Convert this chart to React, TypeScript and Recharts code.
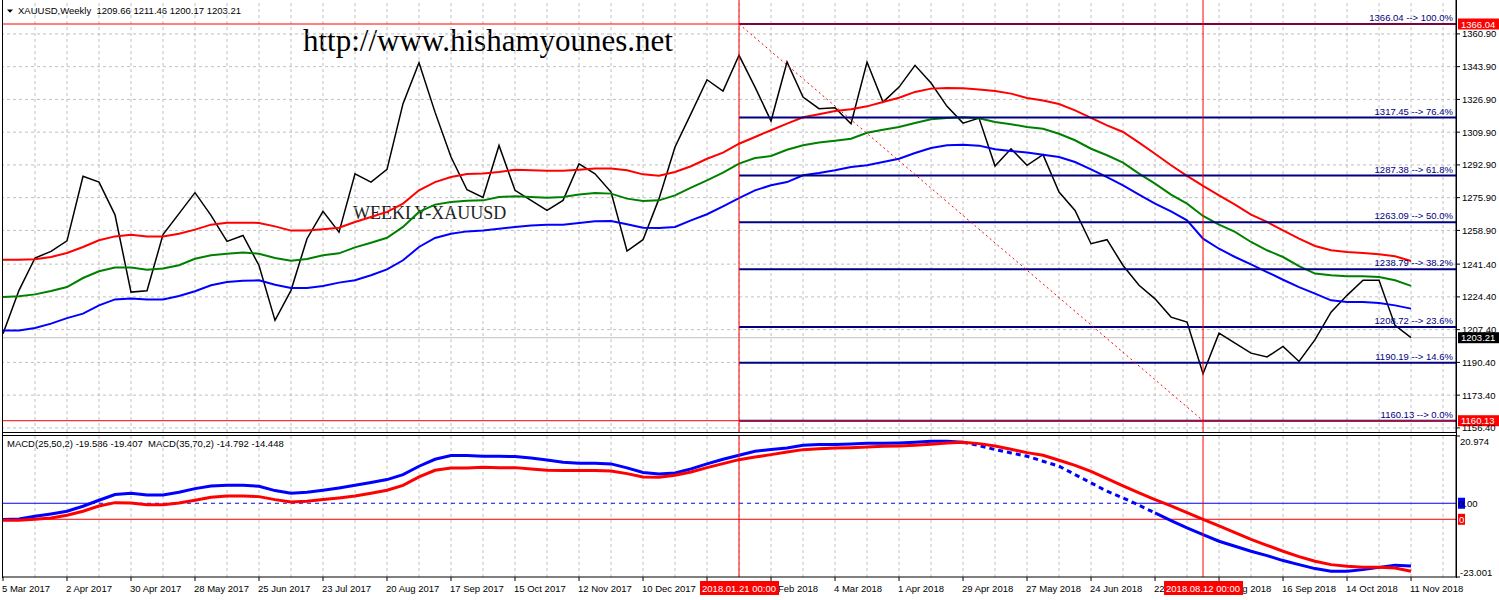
import React from 'react';
import { ComposedChart, Line, XAxis, YAxis, ReferenceLine } from 'recharts';

const FONT = '"Liberation Sans", Arial, sans-serif';
const SERIF = '"Liberation Serif", "Times New Roman", serif';

// Weekly XAUUSD closes, 5 Mar 2017 .. 11 Nov 2018
const closes = [
  1205.3, 1227.8, 1244.6, 1248.0, 1253.5, 1287.0, 1284.0, 1267.0, 1226.9, 1227.6,
  1256.7, 1267.6, 1278.5, 1266.7, 1253.2, 1256.3, 1240.7, 1212.2, 1227.8, 1254.6,
  1268.8, 1258.0, 1288.3, 1284.0, 1290.6, 1324.7, 1345.9, 1320.3, 1297.0, 1280.0,
  1276.0, 1303.0, 1279.7, 1274.5, 1269.3, 1274.5, 1293.5, 1288.3, 1278.8, 1248.2,
  1254.1, 1275.4, 1302.2, 1319.5, 1337.1, 1331.2, 1349.8, 1333.3, 1315.7, 1346.3,
  1328.1, 1322.1, 1322.6, 1314.3, 1346.3, 1325.5, 1333.3, 1344.6, 1335.4, 1323.3,
  1314.6, 1317.2, 1292.3, 1301.3, 1292.7, 1298.2, 1278.8, 1269.3, 1252.0, 1254.1,
  1240.7, 1230.4, 1223.4, 1213.9, 1211.3, 1184.5, 1205.6, 1200.4, 1195.2, 1193.2,
  1198.7, 1190.9, 1202.2, 1216.5, 1225.2, 1233.0, 1233.0, 1209.6, 1203.21,
];
const maRed = [
  1243.7, 1243.7, 1243.9, 1245.1, 1247.2, 1250.3, 1253.8, 1255.8, 1256.7, 1255.8,
  1255.8, 1257.2, 1259.3, 1261.9, 1262.9, 1262.9, 1262.8, 1261.0, 1258.8, 1258.8,
  1259.5, 1260.3, 1263.3, 1265.9, 1268.5, 1272.8, 1279.7, 1284.0, 1286.6, 1288.2,
  1288.4, 1289.2, 1290.4, 1290.1, 1289.9, 1289.9, 1290.4, 1291.0, 1291.0, 1290.1,
  1288.0, 1287.3, 1289.2, 1292.2, 1296.1, 1299.3, 1303.9, 1307.4, 1310.9, 1314.3,
  1317.6, 1319.2, 1320.9, 1321.8, 1323.3, 1325.6, 1327.8, 1330.8, 1332.5, 1332.8,
  1332.7, 1332.0, 1331.3, 1329.9, 1327.6, 1326.3, 1324.5, 1321.2, 1317.3, 1313.4,
  1310.0, 1304.5, 1298.7, 1292.7, 1287.2, 1282.0, 1277.1, 1272.3, 1267.1, 1263.3,
  1258.9, 1254.6, 1250.8, 1248.6, 1247.7, 1247.2, 1246.5, 1245.5, 1243.0,
];
const maGreen = [
  1224.3, 1224.7, 1225.7, 1227.5, 1229.5, 1234.2, 1237.7, 1239.7, 1239.6, 1238.5,
  1239.1, 1240.8, 1244.2, 1246.0, 1246.8, 1247.4, 1246.8, 1244.6, 1243.2, 1244.1,
  1246.0, 1247.0, 1250.1, 1252.5, 1255.1, 1260.7, 1268.5, 1272.3, 1273.7, 1274.3,
  1274.5, 1276.2, 1276.6, 1276.2, 1275.9, 1276.2, 1277.6, 1278.3, 1278.0, 1275.4,
  1274.2, 1274.5, 1277.1, 1281.1, 1284.9, 1288.9, 1293.6, 1296.5, 1297.5, 1300.8,
  1303.1, 1304.5, 1305.5, 1306.5, 1309.6, 1311.2, 1312.6, 1314.7, 1316.6, 1317.3,
  1317.6, 1317.1, 1315.2, 1314.0, 1312.6, 1311.7, 1309.1, 1305.7, 1301.3, 1297.9,
  1294.1, 1288.4, 1283.2, 1277.5, 1272.8, 1266.4, 1261.9, 1258.1, 1252.9, 1248.6,
  1245.1, 1240.4, 1236.5, 1235.6, 1235.1, 1235.1, 1234.7, 1233.0, 1230.1,
];
const maBlue = [
  1207.0, 1207.0, 1208.3, 1210.5, 1213.4, 1215.7, 1220.0, 1223.1, 1223.5, 1223.1,
  1223.1, 1224.9, 1227.3, 1230.4, 1232.1, 1232.8, 1233.0, 1230.7, 1229.0, 1229.0,
  1230.1, 1231.8, 1233.0, 1235.6, 1238.7, 1243.4, 1250.3, 1255.0, 1257.2, 1258.4,
  1258.9, 1259.8, 1260.7, 1261.5, 1261.9, 1261.9, 1262.8, 1263.6, 1263.8, 1262.1,
  1260.3, 1260.2, 1260.7, 1264.1, 1267.3, 1271.4, 1275.7, 1279.7, 1282.3, 1284.0,
  1287.5, 1288.7, 1290.1, 1291.8, 1292.7, 1294.4, 1296.1, 1299.1, 1301.7, 1303.1,
  1303.4, 1302.9, 1301.0, 1300.1, 1299.3, 1298.2, 1297.0, 1294.4, 1290.6, 1286.6,
  1282.3, 1277.5, 1272.8, 1268.8, 1264.1, 1254.6, 1249.4, 1245.1, 1241.3, 1237.3,
  1233.3, 1229.5, 1226.1, 1222.6, 1221.8, 1221.8, 1221.2, 1220.0, 1218.3,
];
// MACD(25,50,2) main (blue) and MACD(35,70,2) main (red)
const macdBlue = [
  -5.09, -4.89, -4.05, -3.33, -2.5, -0.94, 0.94, 2.7, 3.12, 2.6,
  2.6, 3.43, 4.57, 5.41, 5.61, 5.61, 5.3, 3.95, 3.12, 3.43,
  4.05, 4.78, 5.61, 6.45, 7.38, 8.94, 11.54, 13.72, 14.87, 14.87,
  14.66, 14.66, 14.56, 14.14, 13.52, 12.79, 12.48, 12.48, 12.27, 11.02,
  9.57, 9.15, 9.46, 10.71, 12.27, 13.72, 14.97, 16.22, 16.74, 17.26,
  18.09, 18.3, 18.3, 18.51, 18.71, 18.71, 18.82, 19.03, 19.34, 19.34,
  19.03, 17.99, 16.74, 15.7, 14.66, 13.1, 11.54, 8.94, 6.34, 3.74,
  1.66, -0.62, -3.02, -5.41, -7.69, -9.77, -11.85, -13.41, -14.97, -16.32,
  -17.88, -19.13, -20.38, -21.21, -21.21, -20.7, -20.0, -19.3, -19.59,
];
const macdRed = [
  -0.28, -0.28, 0, 0.38, 1.14, 2.28, 3.79, 4.74, 4.65, 4.17,
  4.17, 4.65, 5.41, 6.26, 6.64, 6.64, 6.45, 5.6, 4.93, 5.12,
  5.6, 6.07, 6.64, 7.4, 8.25, 9.67, 12.04, 13.94, 14.6, 14.6,
  14.79, 14.7, 14.7, 14.32, 13.94, 13.85, 13.85, 13.85, 13.75, 12.99,
  12.04, 11.95, 12.52, 13.47, 14.7, 15.84, 16.97, 17.73, 18.4, 19.16,
  19.82, 20.1, 20.29, 20.39, 20.58, 20.77, 20.86, 21.05, 21.34, 21.72,
  21.91, 21.53, 20.86, 19.91, 18.97, 18.21, 16.79, 15.36, 13.66, 11.57,
  9.48, 7.49, 5.59, 3.79, 1.9, 0, -1.9, -3.79, -5.69, -7.4,
  -9.1, -10.62, -11.95, -12.9, -13.37, -13.66, -13.66, -13.85, -14.79,
];
const dateLabels = [
  '5 Mar 2017', '2 Apr 2017', '30 Apr 2017', '28 May 2017', '25 Jun 2017', '23 Jul 2017',
  '20 Aug 2017', '17 Sep 2017', '15 Oct 2017', '12 Nov 2017', '10 Dec 2017', '7 Jan 2018',
  '4 Feb 2018', '4 Mar 2018', '1 Apr 2018', '29 Apr 2018', '27 May 2018', '24 Jun 2018',
  '22 Jul 2018', '19 Aug 2018', '16 Sep 2018', '14 Oct 2018', '11 Nov 2018',
];
const LABEL_STEP = 4;
const priceTicks = [1360.9, 1343.9, 1326.9, 1309.9, 1292.9, 1275.9, 1258.9, 1241.4, 1224.4, 1207.4, 1190.4, 1173.4, 1156.4];
const fibLevels = [1366.04, 1317.45, 1287.38, 1263.09, 1238.79, 1208.72, 1190.19, 1160.13];
const fibPercents = ['100.0%', '76.4%', '61.8%', '50.0%', '38.2%', '23.6%', '14.6%', '0.0%'];
const macdTicks = [20.974, -23.001];
const FIB_START = 46; // 2018.01.21
const FIB_END = 75; // 2018.08.12
const fibDates = ['2018.01.21 00:00', '2018.08.12 00:00'];
const LAST_PRICE = 1203.21;
const FIB_HIGH = 1366.04;
const FIB_LOW = 1160.13;

const X_MAX = 90.81;
const PRICE_DOMAIN: [number, number] = [1154.27, 1378.5];
const MACD_BLUE_DOMAIN: [number, number] = [-23.001, 20.974];
const MACD_RED_DOMAIN: [number, number] = [-16.42, 23.7];

const mainData = closes.map((c, i) => ({ i, close: c, red: maRed[i], green: maGreen[i], blue: maBlue[i] }));
const macdData = macdBlue.map((b, i) => ({
  i,
  blue: i <= 60 || i >= 72 ? b : null,
  blueDash: i >= 60 && i <= 72 ? b : null,
  red: macdRed[i],
}));
const gridX: number[] = [];
for (let k = 2; k <= X_MAX; k += 2) gridX.push(k);
const labelIdx = dateLabels.map((_, k) => k * LABEL_STEP);

// zero crossings of blue MACD (for the zero-level style change)
const crossings: number[] = [];
for (let k = 1; k < macdBlue.length; k++) {
  const a = macdBlue[k - 1];
  const b = macdBlue[k];
  if ((a < 0 && b >= 0) || (a >= 0 && b < 0)) crossings.push(k - 1 + a / (a - b));
}
const c1 = crossings[0];
const c2 = crossings[crossings.length - 1];

const GRID = '#c0c0c0';
const NAVY = '#000080';

const PriceTick = (p: any) => (
  <text x={p.x} y={p.y + 3.5} fontSize={9.5} fontFamily={FONT} fill="#000" textAnchor="start">
    {Number(p.payload.value).toFixed(2)}
  </text>
);
const MacdTick = (p: any) => {
  const v = Number(p.payload.value);
  return (
    <text x={p.x - 2} y={p.y + (v > 0 ? 8.5 : -1.5)} fontSize={9.5} fontFamily={FONT} fill="#000" textAnchor="start">
      {v.toFixed(3)}
    </text>
  );
};
const DateTick = (p: any) => {
  const idx = Math.round(Number(p.payload.value) / LABEL_STEP);
  return (
    <text x={p.x - 1} y={p.y + 9} fontSize={9.5} fontFamily={FONT} fill="#000" textAnchor="start">
      {dateLabels[idx]}
    </text>
  );
};
const FibLabel = (props: any) => {
  const vb = props.viewBox;
  if (!vb) return null;
  return (
    <text x={vb.x + vb.width - 3} y={vb.y - 3} textAnchor="end" fontSize={9.5} fontFamily={FONT} fill={NAVY}>
      {props.txt}
    </text>
  );
};
const PriceBox = (props: any) => {
  const vb = props.viewBox;
  if (!vb) return null;
  const x = vb.x + vb.width + 2;
  return (
    <g>
      <rect x={x} y={vb.y - 5.5} width={41} height={11} fill={props.bg} />
      <text x={x + 3} y={vb.y + 3.5} fontSize={9.5} fontFamily={FONT} fill="#fff">
        {props.txt}
      </text>
    </g>
  );
};
const SmallBox = (props: any) => {
  const vb = props.viewBox;
  if (!vb) return null;
  const x = vb.x + vb.width + 2;
  return (
    <g>
      <rect x={x} y={vb.y - 5.5} width={7} height={11} fill={props.bg} />
      <text x={x + 1} y={vb.y + 3.5} fontSize={9.5} fontFamily={FONT} fill={props.fg}>
        {props.txt}
      </text>
    </g>
  );
};
const DateBox = (props: any) => {
  const vb = props.viewBox;
  if (!vb) return null;
  const y = vb.y + vb.height + 4;
  return (
    <g>
      <rect x={vb.x - 39} y={y} width={79} height={14} fill="#ff0000" />
      <text x={vb.x} y={y + 10.5} textAnchor="middle" fontSize={9.5} fontFamily={FONT} fill="#fff">
        {props.txt}
      </text>
    </g>
  );
};

const line = (top: number, left: number, w: number, h: number, color = '#000') => (
  <div style={{ position: 'absolute', top, left, width: w, height: h, background: color }} />
);

export default function App() {
  return (
    <div style={{ position: 'absolute', left: 0, top: 0, width: 1499, height: 600, background: '#fff', overflow: 'hidden' }}>
      <svg width={1499} height={600} style={{ position: 'absolute', left: 0, top: 0 }}>
        <polygon points="7,9.5 13,9.5 10,12.8" fill="#000" />
        <text x={18} y={14} fontSize={9.5} fontFamily={FONT} fill="#000" style={{ whiteSpace: 'pre' }}>
          {'XAUUSD,Weekly  1209.66 1211.46 1200.17 1203.21'}
        </text>
        <text x={303} y={51} fontSize={31} fontFamily={SERIF} fill="#000">http://www.hishamyounes.net</text>
        <text x={353} y={219} fontSize={18} fontFamily={SERIF} fill="#222">WEEKLY-XAUUSD</text>
        <text x={7} y={447} fontSize={9.5} fontFamily={FONT} fill="#000" style={{ whiteSpace: 'pre' }}>
          {'MACD(25,50,2) -19.586 -19.407  MACD(35,70,2) -14.792 -14.448'}
        </text>
      </svg>

      <div style={{ position: 'absolute', left: 0, top: 0 }}>
        <ComposedChart width={1499} height={434} data={mainData} margin={{ top: 0, right: 0, bottom: 2, left: 3 }}>
          <XAxis dataKey="i" type="number" domain={[0, X_MAX]} hide allowDataOverflow />
          <YAxis
            orientation="right"
            width={43}
            domain={PRICE_DOMAIN}
            ticks={priceTicks}
            interval={0}
            allowDataOverflow
            tick={<PriceTick />}
            tickSize={4}
            tickMargin={2}
            tickLine={{ stroke: '#000' }}
            axisLine={{ stroke: '#000' }}
          />
          {gridX.map((k) => (
            <ReferenceLine key={'gx' + k} x={k} stroke={GRID} strokeDasharray="3 3" />
          ))}
          {priceTicks.map((v) => (
            <ReferenceLine key={'gy' + v} y={v} stroke={GRID} strokeDasharray="3 3" />
          ))}
          <ReferenceLine y={LAST_PRICE} stroke="#c0c0c0" label={<PriceBox txt={LAST_PRICE.toFixed(2)} bg="#000" />} />
          <Line dataKey="close" stroke="#000" strokeWidth={1.5} dot={false} activeDot={false} isAnimationActive={false} type="linear" />
          <Line dataKey="red" stroke="#ff0000" strokeWidth={2} dot={false} activeDot={false} isAnimationActive={false} type="linear" />
          <Line dataKey="green" stroke="#008000" strokeWidth={2} dot={false} activeDot={false} isAnimationActive={false} type="linear" />
          <Line dataKey="blue" stroke="#0000ff" strokeWidth={2} dot={false} activeDot={false} isAnimationActive={false} type="linear" />
          {fibLevels.map((lv, k) => (
            <ReferenceLine
              key={'fib' + k}
              segment={[{ x: FIB_START, y: lv }, { x: X_MAX, y: lv }]}
              stroke={NAVY}
              strokeWidth={2}
              label={<FibLabel txt={`${lv.toFixed(2)} --> ${fibPercents[k]}`} />}
            />
          ))}
          <ReferenceLine y={FIB_HIGH} stroke="#ff0000" label={<PriceBox txt={FIB_HIGH.toFixed(2)} bg="#ff0000" />} />
          <ReferenceLine y={FIB_LOW} stroke="#ff0000" label={<PriceBox txt={FIB_LOW.toFixed(2)} bg="#ff0000" />} />
          <ReferenceLine x={FIB_START} stroke="#ff0000" />
          <ReferenceLine x={FIB_END} stroke="#ff0000" />
          <ReferenceLine
            segment={[{ x: FIB_START, y: FIB_HIGH }, { x: FIB_END, y: FIB_LOW }]}
            stroke="#ff0000"
            strokeDasharray="2 3"
          />
        </ComposedChart>
      </div>

      <div style={{ position: 'absolute', left: 0, top: 434 }}>
        <ComposedChart width={1499} height={166} data={macdData} margin={{ top: 2, right: 0, bottom: 0, left: 3 }}>
          <XAxis
            dataKey="i"
            type="number"
            domain={[0, X_MAX]}
            allowDataOverflow
            ticks={labelIdx}
            interval={0}
            height={23}
            tick={<DateTick />}
            tickSize={4}
            tickMargin={2}
            tickLine={{ stroke: '#000' }}
            axisLine={{ stroke: '#000' }}
          />
          <YAxis
            yAxisId="b"
            orientation="right"
            width={43}
            domain={MACD_BLUE_DOMAIN}
            ticks={macdTicks}
            interval={0}
            allowDataOverflow
            tick={<MacdTick />}
            tickSize={4}
            tickMargin={2}
            tickLine={{ stroke: '#000' }}
            axisLine={{ stroke: '#000' }}
          />
          <YAxis yAxisId="r" hide domain={MACD_RED_DOMAIN} allowDataOverflow />
          {gridX.map((k) => (
            <ReferenceLine key={'mgx' + k} yAxisId="b" x={k} stroke={GRID} strokeDasharray="3 3" />
          ))}
          <ReferenceLine yAxisId="b" segment={[{ x: 0, y: 0 }, { x: c1, y: 0 }]} stroke="#0000ff" />
          <ReferenceLine yAxisId="b" segment={[{ x: c1, y: 0 }, { x: c2, y: 0 }]} stroke="#0000ff" strokeDasharray="4 4" />
          <ReferenceLine
            yAxisId="b"
            segment={[{ x: c2, y: 0 }, { x: X_MAX, y: 0 }]}
            stroke="#0000ff"
            label={<SmallBox txt="0.00" bg="#0000ff" fg="#000" />}
          />
          <ReferenceLine yAxisId="r" y={0} stroke="#ff0000" label={<SmallBox txt="0" bg="#ff0000" fg="#fff" />} />
          <Line yAxisId="b" dataKey="blue" stroke="#0000ff" strokeWidth={3} dot={false} activeDot={false} isAnimationActive={false} type="linear" connectNulls={false} />
          <Line yAxisId="b" dataKey="blueDash" stroke="#0000ff" strokeWidth={3} strokeDasharray="5 4" dot={false} activeDot={false} isAnimationActive={false} type="linear" connectNulls={false} />
          <Line yAxisId="r" dataKey="red" stroke="#ff0000" strokeWidth={3} dot={false} activeDot={false} isAnimationActive={false} type="linear" />
          <ReferenceLine yAxisId="b" x={FIB_START} stroke="#ff0000" />
          <ReferenceLine yAxisId="b" x={FIB_END} stroke="#ff0000" />
        </ComposedChart>
      </div>

      {/* overlay layer: date flags drawn above the time-axis labels */}
      <div style={{ position: 'absolute', left: 0, top: 434 }}>
        <ComposedChart width={1499} height={166} data={macdData} margin={{ top: 2, right: 43, bottom: 23, left: 3 }}>
          <XAxis dataKey="i" type="number" domain={[0, X_MAX]} allowDataOverflow hide />
          <YAxis yAxisId="b" hide domain={MACD_BLUE_DOMAIN} allowDataOverflow />
          <ReferenceLine yAxisId="b" x={FIB_START} stroke="#ff0000" strokeOpacity={0} label={<DateBox txt={fibDates[0]} />} />
          <ReferenceLine yAxisId="b" x={FIB_END} stroke="#ff0000" strokeOpacity={0} label={<DateBox txt={fibDates[1]} />} />
        </ComposedChart>
      </div>

      {line(0, 2, 1, 578)}
      {line(432, 2, 1455, 1)}
      {line(435, 2, 1455, 1)}
      {line(0, 1456, 1, 578)}
    </div>
  );
}
